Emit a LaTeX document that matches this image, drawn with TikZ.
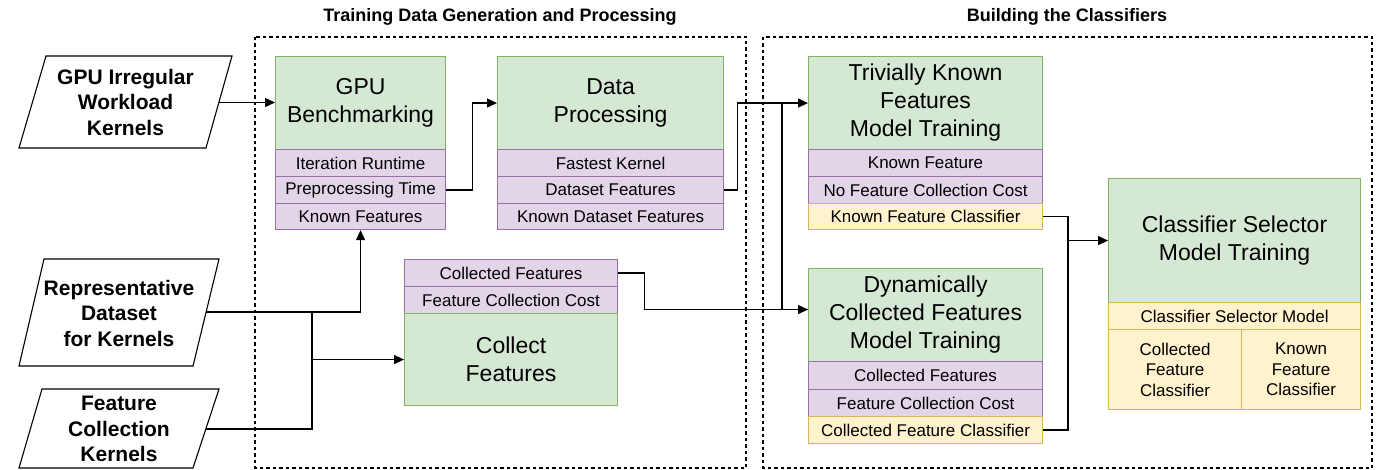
\documentclass[tikz,border=0pt]{standalone}
\usepackage{fontspec}
\setmainfont{Liberation Sans}
\usetikzlibrary{arrows.meta,calc}
\definecolor{gfill}{HTML}{D5E8D4}
\definecolor{gline}{HTML}{82B366}
\definecolor{pfill}{HTML}{E1D5E7}
\definecolor{pline}{HTML}{9673A6}
\definecolor{yfill}{HTML}{FFF2CC}
\definecolor{yline}{HTML}{D6B656}

\tikzset{
  box/.style={rectangle, anchor=north west, inner sep=0pt, line width=1.1pt, align=center, text=black},
  stage/.style={box, draw=gline, fill=gfill, font=\fontsize{23}{28}\selectfont},
  field/.style={box, draw=pline, fill=pfill, font=\fontsize{17}{20.5}\selectfont},
  result/.style={box, draw=yline, fill=yfill, font=\fontsize{17}{20.5}\selectfont},
  inshape/.style={draw=black, line width=1.1pt, fill=white},
  intext/.style={align=center, inner sep=0pt, font=\bfseries\fontsize{21}{25.5}\selectfont},
  region/.style={draw=black, line width=1.1pt, dash pattern=on 3.5pt off 3pt},
  heading/.style={font=\bfseries\fontsize{18}{22}\selectfont},
  wire/.style={draw=black, line width=1.2pt},
  flow/.style={wire, -{Triangle[length=10pt,width=9pt]}},
}

\begin{document}
\begin{tikzpicture}[x=1pt,y=-1pt]
\useasboundingbox (0,0) rectangle (1382,470);

% dashed regions and their headings
\draw[region] (255,37) rectangle (746,468);
\draw[region] (763,37) rectangle (1372,468);
\node[heading] (h1) at (500,17) {Training Data Generation and Processing};
\node[heading] (h2) at (1067,17) {Building the Classifiers};

% inputs
\draw[inshape] (46,56) -- (232,56) -- (206,148) -- (19,148) -- cycle;
\node[intext] (gpuin) at (125.5,102) {GPU Irregular\\Workload\\Kernels};
\coordinate (gpuinR) at (219,102.5);

\draw[inshape] (44,259) -- (219,259) -- (193,366) -- (19,366) -- cycle;
\node[intext] (repin) at (119,313) {Representative\\Dataset\\for Kernels};
\coordinate (repinR) at (206,312);

\draw[inshape] (42,389) -- (219,389) -- (193,468) -- (19,468) -- cycle;
\node[intext] (fcin) at (119,429) {Feature\\Collection\\Kernels};
\coordinate (fcinR) at (206,429);

% GPU benchmarking
\node[stage, minimum width=170, minimum height=93] (bench) at (275,56) {GPU\\Benchmarking};
\node[field, minimum width=170, minimum height=27] (iter) at (275,149) {Iteration Runtime};
\node[field, minimum width=170, minimum height=27] (prep) at (275,176) {Preprocessing Time};
\node[field, minimum width=170, minimum height=26] (knownf) at (275,203) {Known Features};

% data processing
\node[stage, minimum width=226, minimum height=93] (dproc) at (497,56) {Data\\Processing};
\node[field, minimum width=226, minimum height=27] (fastest) at (497,149) {Fastest Kernel};
\node[field, minimum width=226, minimum height=27] (dsfeat) at (497,176) {Dataset Features};
\node[field, minimum width=226, minimum height=26] (kdsfeat) at (497,203) {Known Dataset Features};

% feature collection
\node[field, minimum width=213, minimum height=27] (cfeat) at (404,259) {Collected Features};
\node[field, minimum width=213, minimum height=27] (fccost) at (404,286) {Feature Collection Cost};
\node[stage, minimum width=213, minimum height=92] (coll) at (404,313) {Collect\\Features};

% trivially known features model
\node[stage, minimum width=234, minimum height=93] (triv) at (808,56) {Trivially Known\\Features\\Model Training};
\node[field, minimum width=234, minimum height=27] (kfeat) at (808,149) {Known Feature};
\node[field, minimum width=234, minimum height=27] (nocost) at (808,176) {No Feature Collection Cost};
\node[result, minimum width=234, minimum height=26] (kfc) at (808,203) {Known Feature Classifier};

% dynamically collected features model
\node[stage, minimum width=234, minimum height=93] (dyn) at (808,268) {Dynamically\\Collected Features\\Model Training};
\node[field, minimum width=234, minimum height=28] (dcfeat) at (808,361) {Collected Features};
\node[field, minimum width=234, minimum height=27] (dfccost) at (808,389) {Feature Collection Cost};
\node[result, minimum width=234, minimum height=27] (cfc) at (808,416) {Collected Feature Classifier};

% classifier selector model
\node[stage, minimum width=252, minimum height=124] (sel) at (1108,178) {Classifier Selector\\Model Training};
\node[result, minimum width=252, minimum height=27] (selmodel) at (1108,302) {Classifier Selector Model};
\node[result, minimum width=133, minimum height=80] (cfcls) at (1108,329) {Collected\\Feature\\Classifier};
\node[result, minimum width=119, minimum height=80] (kfcls) at (1241,329) {Known\\Feature\\Classifier};

% connectors
\coordinate (jx) at (782,0);
\coordinate (jr) at (312,0);
\coordinate (js) at (1068,0);
\coordinate (dynin) at ($(dyn.west)+(0,-5.5)$);

\draw[flow] (gpuinR) -- (gpuinR -| bench.west);
\draw[flow] (prep.east) -- ++(26,0) |- (dproc.west);
\draw[flow] (dsfeat.east) -- ++(13,0) |- (triv.west);
\draw[flow] (cfeat.east) -- ++(26,0) |- (dynin);
\draw[wire] (triv.west -| jx) -- (dynin -| jx);

\draw[flow] (repinR) -| (knownf.south);
\draw[wire] (fcinR) -| (coll.west -| jr);
\draw[wire] (repinR -| jr) -- (coll.west -| jr);
\draw[flow] (coll.west -| jr) -- (coll.west);

\draw[wire] (kfc.east) -| (sel.west -| js);
\draw[wire] (cfc.east) -| (sel.west -| js);
\draw[flow] (sel.west -| js) -- (sel.west);
\end{tikzpicture}
\end{document}
